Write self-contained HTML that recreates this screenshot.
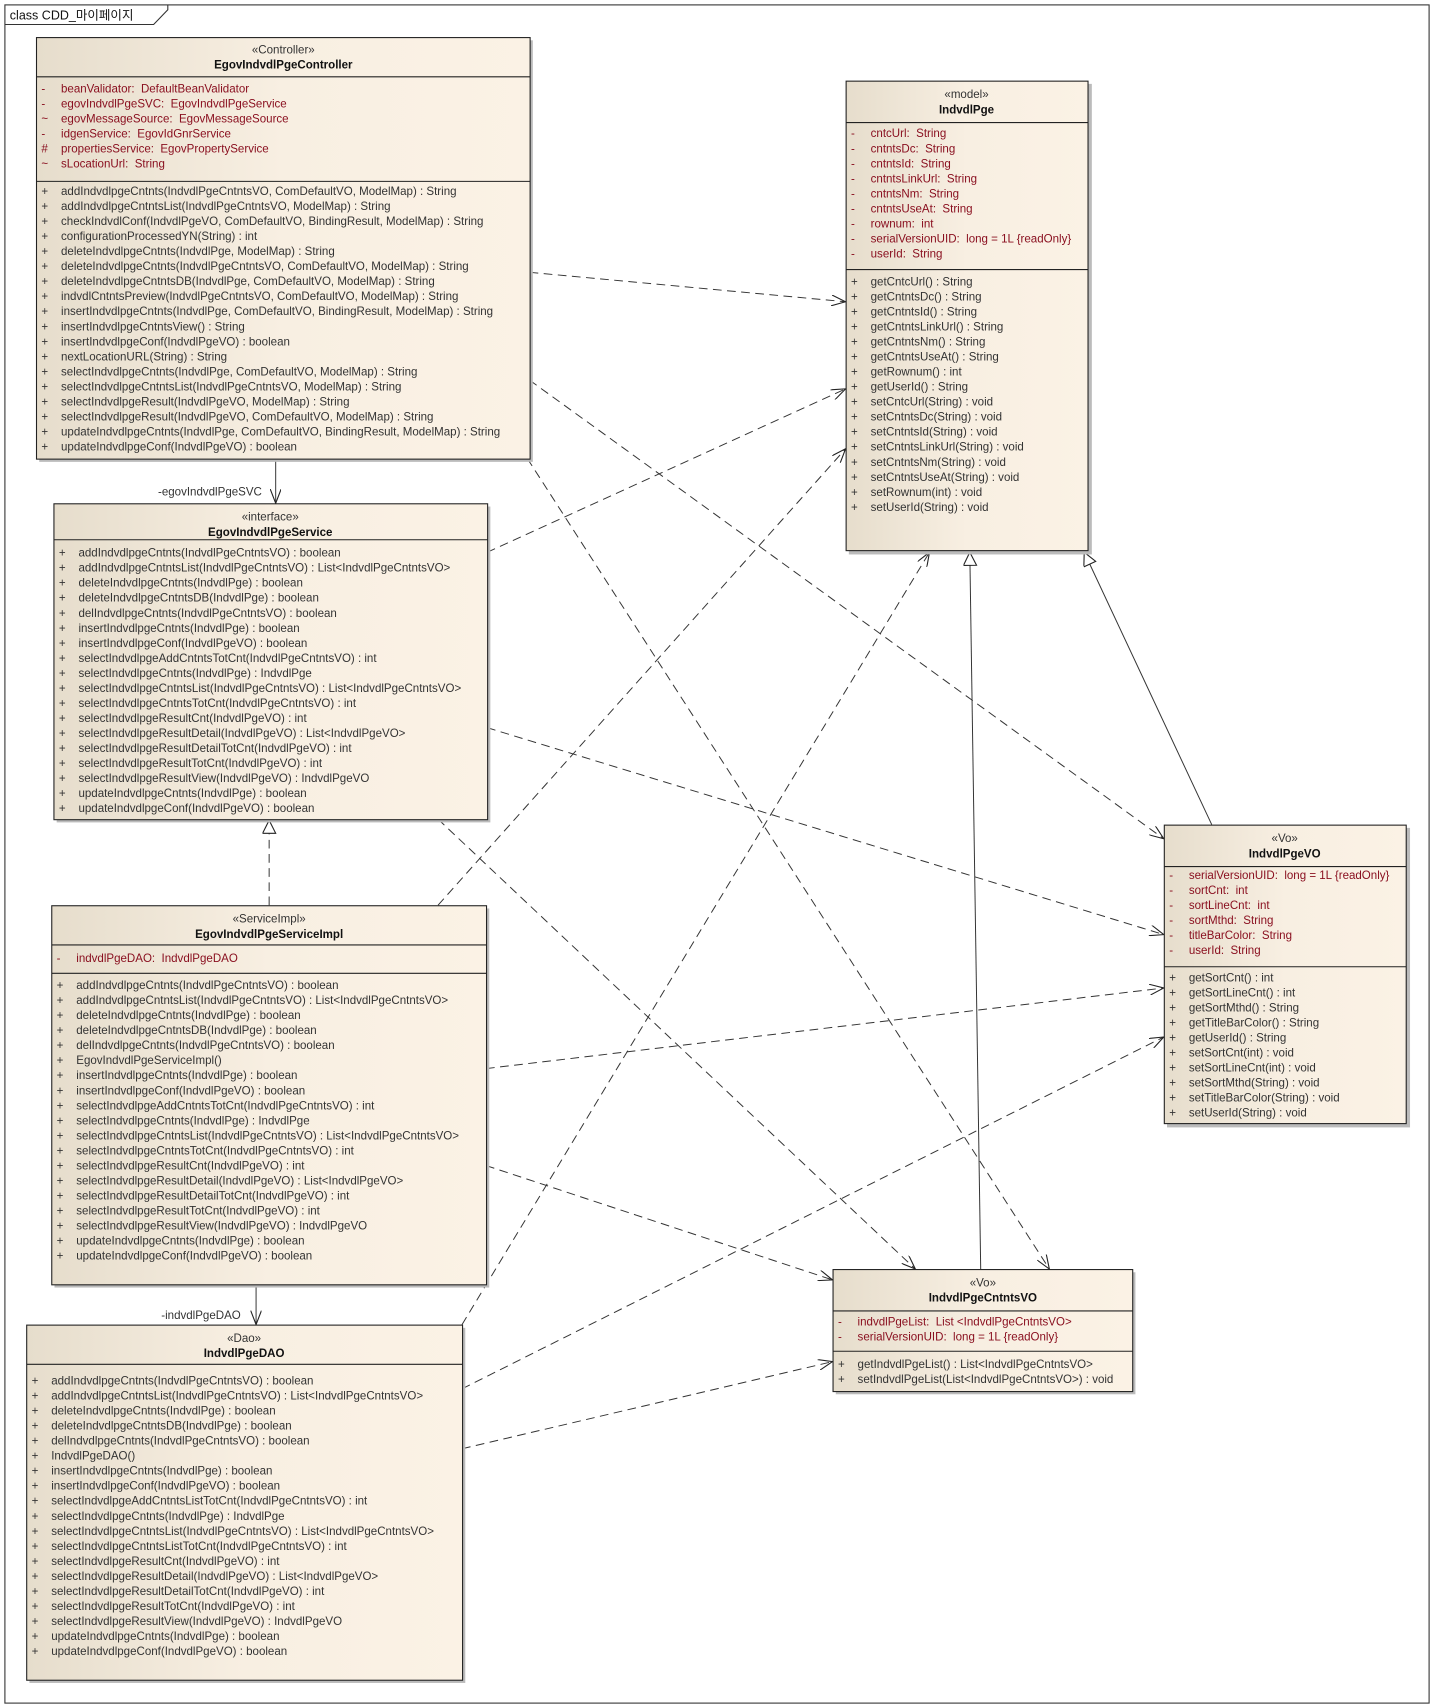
<!DOCTYPE html>
<html><head><meta charset="utf-8"><style>
html,body{margin:0;padding:0;background:#fff}
svg{display:block}
text{font-family:"Liberation Sans","Noto Sans CJK KR",sans-serif;font-size:10.6px;fill:#333;white-space:pre}
.a{fill:#8a1020}
.h{font-weight:bold;fill:#111}
</style></head><body>
<svg width="1434" height="1708" viewBox="0 0 1316 1568" preserveAspectRatio="none" xmlns="http://www.w3.org/2000/svg" xml:space="preserve">
<defs>
<linearGradient id="g" x1="0" x2="1" y1="0" y2="0"><stop offset="0" stop-color="#e6ddcc"/><stop offset="0.5" stop-color="#f8efe2"/><stop offset="1" stop-color="#fbf2e5"/></linearGradient>
<marker id="ar" markerWidth="14" markerHeight="10" refX="13" refY="5" orient="auto" markerUnits="userSpaceOnUse"><path d="M0,0 L13,5 L0,10" fill="none" stroke="#222" stroke-width="1"/></marker>
<marker id="tr" markerWidth="14" markerHeight="14" refX="13" refY="6" orient="auto" markerUnits="userSpaceOnUse"><path d="M1,0 L13,6 L1,12 Z" fill="#fff" stroke="#222" stroke-width="1"/></marker>
</defs>
<rect x="0" y="0" width="1316" height="1568" fill="#fff"/>
<rect x="4.5" y="4.5" width="1307" height="1559" fill="none" stroke="#333"/>
<path d="M4.5,22.5 H141 L154,9 V4.5" fill="none" stroke="#333"/>
<text x="9" y="18" style="font-size:11.5px;fill:#111">class CDD_마이페이지</text>

<g fill="none" stroke="#333" stroke-width="0.9">
<path d="M486,250 L776,277" stroke-dasharray="8,5" marker-end="url(#ar)"/>
<path d="M486,349 L1068,770" stroke-dasharray="8,5" marker-end="url(#ar)"/>
<path d="M484,421 L963,1165" stroke-dasharray="8,5" marker-end="url(#ar)"/>
<path d="M253,421 L253,462" marker-end="url(#ar)"/>
<path d="M447,507 L776,357" stroke-dasharray="8,5" marker-end="url(#ar)"/>
<path d="M447,668 L1068,858" stroke-dasharray="8,5" marker-end="url(#ar)"/>
<path d="M402,752 L840,1165" stroke-dasharray="8,5" marker-end="url(#ar)"/>
<path d="M247,831 L247,753" stroke-dasharray="8,5" marker-end="url(#tr)"/>
<path d="M402,831 L776,412" stroke-dasharray="8,5" marker-end="url(#ar)"/>
<path d="M446,981 L1068,907" stroke-dasharray="8,5" marker-end="url(#ar)"/>
<path d="M446,1070 L764,1175" stroke-dasharray="8,5" marker-end="url(#ar)"/>
<path d="M235,1179 L235,1216" marker-end="url(#ar)"/>
<path d="M424,1216 L853,507" stroke-dasharray="8,5" marker-end="url(#ar)"/>
<path d="M424,1275 L1068,952" stroke-dasharray="8,5" marker-end="url(#ar)"/>
<path d="M424,1330 L764,1250" stroke-dasharray="8,5" marker-end="url(#ar)"/>
<path d="M900,1165 L890,507" marker-end="url(#tr)"/>
<path d="M1112,757 L995,507" marker-end="url(#tr)"/>
</g>
<text x="145" y="455">-egovIndvdlPgeSVC</text>
<text x="148" y="1211">-indvdlPgeDAO</text>

<rect x="36" y="37" width="453" height="387" fill="#bbb"/>
<rect x="33.5" y="34.5" width="453" height="387" fill="url(#g)" stroke="#222"/>
<line x1="33.5" y1="70.5" x2="486.5" y2="70.5" stroke="#222"/>
<line x1="33.5" y1="166.5" x2="486.5" y2="166.5" stroke="#222"/>
<text x="260" y="49" text-anchor="middle">«Controller»</text>
<text x="260" y="63" text-anchor="middle" class="h">EgovIndvdlPgeController</text>
<text class="a" y="71"><tspan x="38" dy="14">-</tspan><tspan x="56">beanValidator:  DefaultBeanValidator</tspan><tspan x="38" dy="13.8">-</tspan><tspan x="56">egovIndvdlPgeSVC:  EgovIndvdlPgeService</tspan><tspan x="38" dy="13.8">~</tspan><tspan x="56">egovMessageSource:  EgovMessageSource</tspan><tspan x="38" dy="13.8">-</tspan><tspan x="56">idgenService:  EgovIdGnrService</tspan><tspan x="38" dy="13.8">#</tspan><tspan x="56">propertiesService:  EgovPropertyService</tspan><tspan x="38" dy="13.8">~</tspan><tspan x="56">sLocationUrl:  String</tspan></text>
<text y="165"><tspan x="38" dy="14">+</tspan><tspan x="56">addIndvdlpgeCntnts(IndvdlPgeCntntsVO, ComDefaultVO, ModelMap) : String</tspan><tspan x="38" dy="13.8">+</tspan><tspan x="56">addIndvdlpgeCntntsList(IndvdlPgeCntntsVO, ModelMap) : String</tspan><tspan x="38" dy="13.8">+</tspan><tspan x="56">checkIndvdlConf(IndvdlPgeVO, ComDefaultVO, BindingResult, ModelMap) : String</tspan><tspan x="38" dy="13.8">+</tspan><tspan x="56">configurationProcessedYN(String) : int</tspan><tspan x="38" dy="13.8">+</tspan><tspan x="56">deleteIndvdlpgeCntnts(IndvdlPge, ModelMap) : String</tspan><tspan x="38" dy="13.8">+</tspan><tspan x="56">deleteIndvdlpgeCntnts(IndvdlPgeCntntsVO, ComDefaultVO, ModelMap) : String</tspan><tspan x="38" dy="13.8">+</tspan><tspan x="56">deleteIndvdlpgeCntntsDB(IndvdlPge, ComDefaultVO, ModelMap) : String</tspan><tspan x="38" dy="13.8">+</tspan><tspan x="56">indvdlCntntsPreview(IndvdlPgeCntntsVO, ComDefaultVO, ModelMap) : String</tspan><tspan x="38" dy="13.8">+</tspan><tspan x="56">insertIndvdlpgeCntnts(IndvdlPge, ComDefaultVO, BindingResult, ModelMap) : String</tspan><tspan x="38" dy="13.8">+</tspan><tspan x="56">insertIndvdlpgeCntntsView() : String</tspan><tspan x="38" dy="13.8">+</tspan><tspan x="56">insertIndvdlpgeConf(IndvdlPgeVO) : boolean</tspan><tspan x="38" dy="13.8">+</tspan><tspan x="56">nextLocationURL(String) : String</tspan><tspan x="38" dy="13.8">+</tspan><tspan x="56">selectIndvdlpgeCntnts(IndvdlPge, ComDefaultVO, ModelMap) : String</tspan><tspan x="38" dy="13.8">+</tspan><tspan x="56">selectIndvdlpgeCntntsList(IndvdlPgeCntntsVO, ModelMap) : String</tspan><tspan x="38" dy="13.8">+</tspan><tspan x="56">selectIndvdlpgeResult(IndvdlPgeVO, ModelMap) : String</tspan><tspan x="38" dy="13.8">+</tspan><tspan x="56">selectIndvdlpgeResult(IndvdlPgeVO, ComDefaultVO, ModelMap) : String</tspan><tspan x="38" dy="13.8">+</tspan><tspan x="56">updateIndvdlpgeCntnts(IndvdlPge, ComDefaultVO, BindingResult, ModelMap) : String</tspan><tspan x="38" dy="13.8">+</tspan><tspan x="56">updateIndvdlpgeConf(IndvdlPgeVO) : boolean</tspan></text>

<rect x="779" y="77" width="223" height="432" fill="#bbb"/>
<rect x="776.5" y="74.5" width="222" height="431" fill="url(#g)" stroke="#222"/>
<line x1="776.5" y1="112.5" x2="998.5" y2="112.5" stroke="#222"/>
<line x1="776.5" y1="247.5" x2="998.5" y2="247.5" stroke="#222"/>
<text x="887" y="90" text-anchor="middle">«model»</text>
<text x="887" y="104" text-anchor="middle" class="h">IndvdlPge</text>
<text class="a" y="112"><tspan x="781" dy="14">-</tspan><tspan x="799">cntcUrl:  String</tspan><tspan x="781" dy="13.8">-</tspan><tspan x="799">cntntsDc:  String</tspan><tspan x="781" dy="13.8">-</tspan><tspan x="799">cntntsId:  String</tspan><tspan x="781" dy="13.8">-</tspan><tspan x="799">cntntsLinkUrl:  String</tspan><tspan x="781" dy="13.8">-</tspan><tspan x="799">cntntsNm:  String</tspan><tspan x="781" dy="13.8">-</tspan><tspan x="799">cntntsUseAt:  String</tspan><tspan x="781" dy="13.8">-</tspan><tspan x="799">rownum:  int</tspan><tspan x="781" dy="13.8">-</tspan><tspan x="799">serialVersionUID:  long = 1L {readOnly}</tspan><tspan x="781" dy="13.8">-</tspan><tspan x="799">userId:  String</tspan></text>
<text y="248"><tspan x="781" dy="14">+</tspan><tspan x="799">getCntcUrl() : String</tspan><tspan x="781" dy="13.8">+</tspan><tspan x="799">getCntntsDc() : String</tspan><tspan x="781" dy="13.8">+</tspan><tspan x="799">getCntntsId() : String</tspan><tspan x="781" dy="13.8">+</tspan><tspan x="799">getCntntsLinkUrl() : String</tspan><tspan x="781" dy="13.8">+</tspan><tspan x="799">getCntntsNm() : String</tspan><tspan x="781" dy="13.8">+</tspan><tspan x="799">getCntntsUseAt() : String</tspan><tspan x="781" dy="13.8">+</tspan><tspan x="799">getRownum() : int</tspan><tspan x="781" dy="13.8">+</tspan><tspan x="799">getUserId() : String</tspan><tspan x="781" dy="13.8">+</tspan><tspan x="799">setCntcUrl(String) : void</tspan><tspan x="781" dy="13.8">+</tspan><tspan x="799">setCntntsDc(String) : void</tspan><tspan x="781" dy="13.8">+</tspan><tspan x="799">setCntntsId(String) : void</tspan><tspan x="781" dy="13.8">+</tspan><tspan x="799">setCntntsLinkUrl(String) : void</tspan><tspan x="781" dy="13.8">+</tspan><tspan x="799">setCntntsNm(String) : void</tspan><tspan x="781" dy="13.8">+</tspan><tspan x="799">setCntntsUseAt(String) : void</tspan><tspan x="781" dy="13.8">+</tspan><tspan x="799">setRownum(int) : void</tspan><tspan x="781" dy="13.8">+</tspan><tspan x="799">setUserId(String) : void</tspan></text>

<rect x="52" y="465" width="398" height="290" fill="#bbb"/>
<rect x="49.5" y="462.5" width="398" height="290" fill="url(#g)" stroke="#222"/>
<line x1="49.5" y1="495.5" x2="447.5" y2="495.5" stroke="#222"/>
<text x="248" y="478" text-anchor="middle">«interface»</text>
<text x="248" y="492" text-anchor="middle" class="h">EgovIndvdlPgeService</text>
<text y="497"><tspan x="54" dy="14">+</tspan><tspan x="72">addIndvdlpgeCntnts(IndvdlPgeCntntsVO) : boolean</tspan><tspan x="54" dy="13.8">+</tspan><tspan x="72">addIndvdlpgeCntntsList(IndvdlPgeCntntsVO) : List&lt;IndvdlPgeCntntsVO&gt;</tspan><tspan x="54" dy="13.8">+</tspan><tspan x="72">deleteIndvdlpgeCntnts(IndvdlPge) : boolean</tspan><tspan x="54" dy="13.8">+</tspan><tspan x="72">deleteIndvdlpgeCntntsDB(IndvdlPge) : boolean</tspan><tspan x="54" dy="13.8">+</tspan><tspan x="72">delIndvdlpgeCntnts(IndvdlPgeCntntsVO) : boolean</tspan><tspan x="54" dy="13.8">+</tspan><tspan x="72">insertIndvdlpgeCntnts(IndvdlPge) : boolean</tspan><tspan x="54" dy="13.8">+</tspan><tspan x="72">insertIndvdlpgeConf(IndvdlPgeVO) : boolean</tspan><tspan x="54" dy="13.8">+</tspan><tspan x="72">selectIndvdlpgeAddCntntsTotCnt(IndvdlPgeCntntsVO) : int</tspan><tspan x="54" dy="13.8">+</tspan><tspan x="72">selectIndvdlpgeCntnts(IndvdlPge) : IndvdlPge</tspan><tspan x="54" dy="13.8">+</tspan><tspan x="72">selectIndvdlpgeCntntsList(IndvdlPgeCntntsVO) : List&lt;IndvdlPgeCntntsVO&gt;</tspan><tspan x="54" dy="13.8">+</tspan><tspan x="72">selectIndvdlpgeCntntsTotCnt(IndvdlPgeCntntsVO) : int</tspan><tspan x="54" dy="13.8">+</tspan><tspan x="72">selectIndvdlpgeResultCnt(IndvdlPgeVO) : int</tspan><tspan x="54" dy="13.8">+</tspan><tspan x="72">selectIndvdlpgeResultDetail(IndvdlPgeVO) : List&lt;IndvdlPgeVO&gt;</tspan><tspan x="54" dy="13.8">+</tspan><tspan x="72">selectIndvdlpgeResultDetailTotCnt(IndvdlPgeVO) : int</tspan><tspan x="54" dy="13.8">+</tspan><tspan x="72">selectIndvdlpgeResultTotCnt(IndvdlPgeVO) : int</tspan><tspan x="54" dy="13.8">+</tspan><tspan x="72">selectIndvdlpgeResultView(IndvdlPgeVO) : IndvdlPgeVO</tspan><tspan x="54" dy="13.8">+</tspan><tspan x="72">updateIndvdlpgeCntnts(IndvdlPge) : boolean</tspan><tspan x="54" dy="13.8">+</tspan><tspan x="72">updateIndvdlpgeConf(IndvdlPgeVO) : boolean</tspan></text>

<rect x="50" y="834" width="399" height="348" fill="#bbb"/>
<rect x="47.5" y="831.5" width="399" height="348" fill="url(#g)" stroke="#222"/>
<line x1="47.5" y1="867.5" x2="446.5" y2="867.5" stroke="#222"/>
<line x1="47.5" y1="893.5" x2="446.5" y2="893.5" stroke="#222"/>
<text x="247" y="847" text-anchor="middle">«ServiceImpl»</text>
<text x="247" y="861" text-anchor="middle" class="h">EgovIndvdlPgeServiceImpl</text>
<text class="a" y="869"><tspan x="52" dy="14">-</tspan><tspan x="70">indvdlPgeDAO:  IndvdlPgeDAO</tspan></text>
<text y="894"><tspan x="52" dy="14">+</tspan><tspan x="70">addIndvdlpgeCntnts(IndvdlPgeCntntsVO) : boolean</tspan><tspan x="52" dy="13.8">+</tspan><tspan x="70">addIndvdlpgeCntntsList(IndvdlPgeCntntsVO) : List&lt;IndvdlPgeCntntsVO&gt;</tspan><tspan x="52" dy="13.8">+</tspan><tspan x="70">deleteIndvdlpgeCntnts(IndvdlPge) : boolean</tspan><tspan x="52" dy="13.8">+</tspan><tspan x="70">deleteIndvdlpgeCntntsDB(IndvdlPge) : boolean</tspan><tspan x="52" dy="13.8">+</tspan><tspan x="70">delIndvdlpgeCntnts(IndvdlPgeCntntsVO) : boolean</tspan><tspan x="52" dy="13.8">+</tspan><tspan x="70">EgovIndvdlPgeServiceImpl()</tspan><tspan x="52" dy="13.8">+</tspan><tspan x="70">insertIndvdlpgeCntnts(IndvdlPge) : boolean</tspan><tspan x="52" dy="13.8">+</tspan><tspan x="70">insertIndvdlpgeConf(IndvdlPgeVO) : boolean</tspan><tspan x="52" dy="13.8">+</tspan><tspan x="70">selectIndvdlpgeAddCntntsTotCnt(IndvdlPgeCntntsVO) : int</tspan><tspan x="52" dy="13.8">+</tspan><tspan x="70">selectIndvdlpgeCntnts(IndvdlPge) : IndvdlPge</tspan><tspan x="52" dy="13.8">+</tspan><tspan x="70">selectIndvdlpgeCntntsList(IndvdlPgeCntntsVO) : List&lt;IndvdlPgeCntntsVO&gt;</tspan><tspan x="52" dy="13.8">+</tspan><tspan x="70">selectIndvdlpgeCntntsTotCnt(IndvdlPgeCntntsVO) : int</tspan><tspan x="52" dy="13.8">+</tspan><tspan x="70">selectIndvdlpgeResultCnt(IndvdlPgeVO) : int</tspan><tspan x="52" dy="13.8">+</tspan><tspan x="70">selectIndvdlpgeResultDetail(IndvdlPgeVO) : List&lt;IndvdlPgeVO&gt;</tspan><tspan x="52" dy="13.8">+</tspan><tspan x="70">selectIndvdlpgeResultDetailTotCnt(IndvdlPgeVO) : int</tspan><tspan x="52" dy="13.8">+</tspan><tspan x="70">selectIndvdlpgeResultTotCnt(IndvdlPgeVO) : int</tspan><tspan x="52" dy="13.8">+</tspan><tspan x="70">selectIndvdlpgeResultView(IndvdlPgeVO) : IndvdlPgeVO</tspan><tspan x="52" dy="13.8">+</tspan><tspan x="70">updateIndvdlpgeCntnts(IndvdlPge) : boolean</tspan><tspan x="52" dy="13.8">+</tspan><tspan x="70">updateIndvdlpgeConf(IndvdlPgeVO) : boolean</tspan></text>

<rect x="27" y="1219" width="400" height="326" fill="#bbb"/>
<rect x="24.5" y="1216.5" width="400" height="326" fill="url(#g)" stroke="#222"/>
<line x1="24.5" y1="1252.5" x2="424.5" y2="1252.5" stroke="#222"/>
<text x="224" y="1232" text-anchor="middle">«Dao»</text>
<text x="224" y="1246" text-anchor="middle" class="h">IndvdlPgeDAO</text>
<text y="1257"><tspan x="29" dy="14">+</tspan><tspan x="47">addIndvdlpgeCntnts(IndvdlPgeCntntsVO) : boolean</tspan><tspan x="29" dy="13.8">+</tspan><tspan x="47">addIndvdlpgeCntntsList(IndvdlPgeCntntsVO) : List&lt;IndvdlPgeCntntsVO&gt;</tspan><tspan x="29" dy="13.8">+</tspan><tspan x="47">deleteIndvdlpgeCntnts(IndvdlPge) : boolean</tspan><tspan x="29" dy="13.8">+</tspan><tspan x="47">deleteIndvdlpgeCntntsDB(IndvdlPge) : boolean</tspan><tspan x="29" dy="13.8">+</tspan><tspan x="47">delIndvdlpgeCntnts(IndvdlPgeCntntsVO) : boolean</tspan><tspan x="29" dy="13.8">+</tspan><tspan x="47">IndvdlPgeDAO()</tspan><tspan x="29" dy="13.8">+</tspan><tspan x="47">insertIndvdlpgeCntnts(IndvdlPge) : boolean</tspan><tspan x="29" dy="13.8">+</tspan><tspan x="47">insertIndvdlpgeConf(IndvdlPgeVO) : boolean</tspan><tspan x="29" dy="13.8">+</tspan><tspan x="47">selectIndvdlpgeAddCntntsListTotCnt(IndvdlPgeCntntsVO) : int</tspan><tspan x="29" dy="13.8">+</tspan><tspan x="47">selectIndvdlpgeCntnts(IndvdlPge) : IndvdlPge</tspan><tspan x="29" dy="13.8">+</tspan><tspan x="47">selectIndvdlpgeCntntsList(IndvdlPgeCntntsVO) : List&lt;IndvdlPgeCntntsVO&gt;</tspan><tspan x="29" dy="13.8">+</tspan><tspan x="47">selectIndvdlpgeCntntsListTotCnt(IndvdlPgeCntntsVO) : int</tspan><tspan x="29" dy="13.8">+</tspan><tspan x="47">selectIndvdlpgeResultCnt(IndvdlPgeVO) : int</tspan><tspan x="29" dy="13.8">+</tspan><tspan x="47">selectIndvdlpgeResultDetail(IndvdlPgeVO) : List&lt;IndvdlPgeVO&gt;</tspan><tspan x="29" dy="13.8">+</tspan><tspan x="47">selectIndvdlpgeResultDetailTotCnt(IndvdlPgeVO) : int</tspan><tspan x="29" dy="13.8">+</tspan><tspan x="47">selectIndvdlpgeResultTotCnt(IndvdlPgeVO) : int</tspan><tspan x="29" dy="13.8">+</tspan><tspan x="47">selectIndvdlpgeResultView(IndvdlPgeVO) : IndvdlPgeVO</tspan><tspan x="29" dy="13.8">+</tspan><tspan x="47">updateIndvdlpgeCntnts(IndvdlPge) : boolean</tspan><tspan x="29" dy="13.8">+</tspan><tspan x="47">updateIndvdlpgeConf(IndvdlPgeVO) : boolean</tspan></text>

<rect x="1071" y="760" width="223" height="275" fill="#bbb"/>
<rect x="1068.5" y="757.5" width="222" height="274" fill="url(#g)" stroke="#222"/>
<line x1="1068.5" y1="795.5" x2="1290.5" y2="795.5" stroke="#222"/>
<line x1="1068.5" y1="887.5" x2="1290.5" y2="887.5" stroke="#222"/>
<text x="1179" y="773" text-anchor="middle">«Vo»</text>
<text x="1179" y="787" text-anchor="middle" class="h">IndvdlPgeVO</text>
<text class="a" y="793"><tspan x="1073" dy="14">-</tspan><tspan x="1091">serialVersionUID:  long = 1L {readOnly}</tspan><tspan x="1073" dy="13.8">-</tspan><tspan x="1091">sortCnt:  int</tspan><tspan x="1073" dy="13.8">-</tspan><tspan x="1091">sortLineCnt:  int</tspan><tspan x="1073" dy="13.8">-</tspan><tspan x="1091">sortMthd:  String</tspan><tspan x="1073" dy="13.8">-</tspan><tspan x="1091">titleBarColor:  String</tspan><tspan x="1073" dy="13.8">-</tspan><tspan x="1091">userId:  String</tspan></text>
<text y="887"><tspan x="1073" dy="14">+</tspan><tspan x="1091">getSortCnt() : int</tspan><tspan x="1073" dy="13.8">+</tspan><tspan x="1091">getSortLineCnt() : int</tspan><tspan x="1073" dy="13.8">+</tspan><tspan x="1091">getSortMthd() : String</tspan><tspan x="1073" dy="13.8">+</tspan><tspan x="1091">getTitleBarColor() : String</tspan><tspan x="1073" dy="13.8">+</tspan><tspan x="1091">getUserId() : String</tspan><tspan x="1073" dy="13.8">+</tspan><tspan x="1091">setSortCnt(int) : void</tspan><tspan x="1073" dy="13.8">+</tspan><tspan x="1091">setSortLineCnt(int) : void</tspan><tspan x="1073" dy="13.8">+</tspan><tspan x="1091">setSortMthd(String) : void</tspan><tspan x="1073" dy="13.8">+</tspan><tspan x="1091">setTitleBarColor(String) : void</tspan><tspan x="1073" dy="13.8">+</tspan><tspan x="1091">setUserId(String) : void</tspan></text>

<rect x="767" y="1168" width="275" height="112" fill="#bbb"/>
<rect x="764.5" y="1165.5" width="275" height="112" fill="url(#g)" stroke="#222"/>
<line x1="764.5" y1="1203.5" x2="1039.5" y2="1203.5" stroke="#222"/>
<line x1="764.5" y1="1240.5" x2="1039.5" y2="1240.5" stroke="#222"/>
<text x="902" y="1181" text-anchor="middle">«Vo»</text>
<text x="902" y="1195" text-anchor="middle" class="h">IndvdlPgeCntntsVO</text>
<text class="a" y="1203"><tspan x="769" dy="14">-</tspan><tspan x="787">indvdlPgeList:  List &lt;IndvdlPgeCntntsVO&gt;</tspan><tspan x="769" dy="13.8">-</tspan><tspan x="787">serialVersionUID:  long = 1L {readOnly}</tspan></text>
<text y="1242"><tspan x="769" dy="14">+</tspan><tspan x="787">getIndvdlPgeList() : List&lt;IndvdlPgeCntntsVO&gt;</tspan><tspan x="769" dy="13.8">+</tspan><tspan x="787">setIndvdlPgeList(List&lt;IndvdlPgeCntntsVO&gt;) : void</tspan></text>
</svg>
</body></html>
